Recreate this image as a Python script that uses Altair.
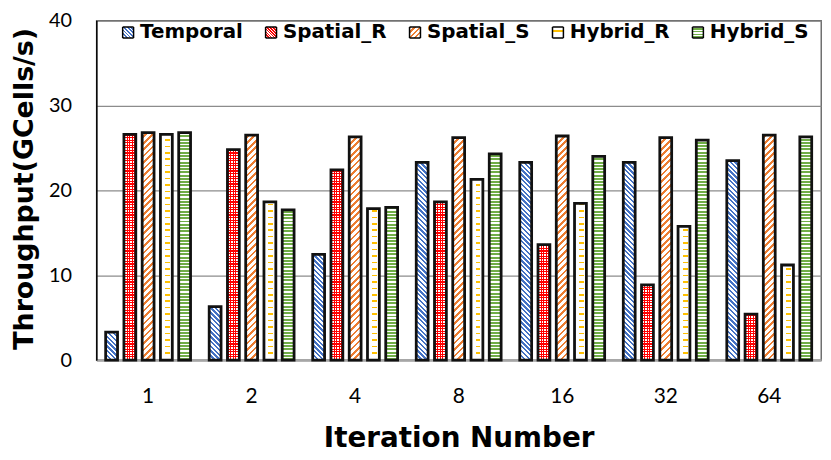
import math
import altair as alt

# ---------------- data ----------------
iterations = ["1", "2", "4", "8", "16", "32", "64"]
series = ["Temporal", "Spatial_R", "Spatial_S", "Hybrid_R", "Hybrid_S"]
temporal = [3.3, 6.3, 12.45, 23.3, 23.3, 23.3, 23.5]
spatial_r = [26.6, 24.8, 22.4, 18.65, 13.6, 8.85, 5.4]
spatial_s = [26.8, 26.5, 26.3, 26.2, 26.4, 26.2, 26.5]
hybrid_r = [26.6, 18.65, 17.85, 21.3, 18.45, 15.75, 11.2]
hybrid_s = [26.8, 17.7, 18.0, 24.3, 24.0, 25.9, 26.3]
y_ticks = [0, 10, 20, 30, 40]

values_by_series = {
    "Temporal": temporal,
    "Spatial_R": spatial_r,
    "Spatial_S": spatial_s,
    "Hybrid_R": hybrid_r,
    "Hybrid_S": hybrid_s,
}

# ---------------- layout / style ----------------
W, H = 730, 342
Y_MAX = 40
X_PAD_IN, X_PAD_OUT = 0.18, 0.09
OFF_PAD = 0.35
step = W / (len(iterations) - X_PAD_IN + 2 * X_PAD_OUT)
band = step * (1 - X_PAD_IN)
bar_w = band / (len(series) - OFF_PAD) * (1 - OFF_PAD)
SYM = 11  # legend symbol side (px)

BLUE = "#4472C4"
RED = "#FF0000"
ORANGE = "#ED7D31"
YELLOW = "#FFC000"
GREEN = "#70AD47"
WHITE = "#FFFFFF"
CLEAR = "rgba(255,255,255,0)"


def stripes(w, h, direction, period, frac, color_a, color_b):
    """Linear gradient (bbox units) that draws parallel stripes along `direction`."""
    lx, ly = direction
    du, dv = ly / h, -lx / w
    corners = [(0, 0), (1, 0), (0, 1), (1, 1)]
    proj = [cu * du + cv * dv for cu, cv in corners]
    lo, hi = min(proj), max(proj)
    p1 = corners[proj.index(lo)]
    s = (hi - lo) / (du * du + dv * dv)
    p2 = (p1[0] + s * du, p1[1] + s * dv)
    n = math.hypot(lx, ly)
    extent = (w * abs(ly) + h * abs(lx)) / n
    stops = []
    pos = 0.0
    while pos < extent - 1e-9:
        a_end = min(pos + frac * period, extent)
        b_end = min(pos + period, extent)
        o0, o1, o2 = pos / extent, a_end / extent, b_end / extent
        stops += [
            {"offset": round(o0, 5), "color": color_a},
            {"offset": round(o1, 5), "color": color_a},
            {"offset": round(o1, 5), "color": color_b},
            {"offset": round(o2, 5), "color": color_b},
        ]
        pos += period
    return {
        "gradient": "linear",
        "x1": round(p1[0], 5), "y1": round(p1[1], 5),
        "x2": round(p2[0], 5), "y2": round(p2[1], 5),
        "stops": stops,
    }


def band_mask(left, right, mask_color):
    return {
        "gradient": "linear", "x1": 0, "y1": 0, "x2": 1, "y2": 0,
        "stops": [
            {"offset": 0, "color": mask_color},
            {"offset": left, "color": mask_color},
            {"offset": left, "color": CLEAR},
            {"offset": right, "color": CLEAR},
            {"offset": right, "color": mask_color},
            {"offset": 1, "color": mask_color},
        ],
    }


def fills_for(s, w, h):
    if s == "Temporal":
        return stripes(w, h, (1, 1), 3.4, 0.5, BLUE, WHITE), None
    if s == "Spatial_R":
        return (stripes(w, h, (1, 0), 2.6, 0.45, RED, WHITE),
                stripes(w, h, (0, 1), 2.6, 0.45, RED, CLEAR))
    if s == "Spatial_S":
        return stripes(w, h, (1, -1), 4.6, 0.42, ORANGE, WHITE), None
    if s == "Hybrid_R":
        return (stripes(w, h, (1, 0), 6.5, 0.24, YELLOW, WHITE),
                band_mask(0.38, 0.8, WHITE))
    return stripes(w, h, (1, 0), 3.3, 0.6, GREEN, WHITE), None


records = []
for s in series:
    for it, v in zip(iterations, values_by_series[s]):
        f1, f2 = fills_for(s, bar_w, v / Y_MAX * H)
        rec = {"Iter": it, "Series": s, "Value": v, "fill1": f1}
        if f2 is not None:
            rec["fill2"] = f2
        records.append(rec)


# legend symbol patterns, as a Vega expression keyed on the legend entry
def grad_expr(g):
    stops = ",".join("{offset:%s,color:'%s'}" % (st["offset"], st["color"]) for st in g["stops"])
    return "{gradient:'linear',x1:%s,y1:%s,x2:%s,y2:%s,stops:[%s]}" % (
        g["x1"], g["y1"], g["x2"], g["y2"], stops)


legend_patterns = {
    "Temporal": stripes(SYM, SYM, (1, 1), 2.6, 0.5, BLUE, WHITE),
    "Spatial_R": stripes(SYM, SYM, (1, 1), 2.0, 0.6, RED, WHITE),
    "Spatial_S": stripes(SYM, SYM, (1, -1), 3.6, 0.45, ORANGE, WHITE),
    "Hybrid_R": {"gradient": "linear", "x1": 0, "y1": 0, "x2": 0, "y2": 1,
                 "stops": [{"offset": 0, "color": WHITE}, {"offset": 0.3, "color": WHITE},
                           {"offset": 0.3, "color": YELLOW}, {"offset": 0.45, "color": YELLOW},
                           {"offset": 0.45, "color": WHITE}, {"offset": 1, "color": WHITE}]},
    "Hybrid_S": stripes(SYM, SYM, (1, 0), 2.8, 0.55, GREEN, WHITE),
}
expr = "'#FFFFFF'"
for s in reversed(series):
    expr = "datum.value === '%s' ? %s : (%s)" % (s, grad_expr(legend_patterns[s]), expr)

base = alt.Chart(alt.Data(values=records))

x_enc = alt.X(
    "Iter:N",
    sort=iterations,
    scale=alt.Scale(domain=iterations, paddingInner=X_PAD_IN, paddingOuter=X_PAD_OUT),
    title="Iteration Number",
    axis=alt.Axis(
        labelAngle=0, ticks=False, labelPadding=26, labelFont="Lato",
        labelFontSize=21, labelColor="#000000",
        domainColor="#A6A6A6", domainWidth=2.5,
        titleFont="DejaVu Sans", titleFontSize=28, titleFontWeight="bold",
        titleColor="#000000", titleY=87, titleBaseline="alphabetic",
    ),
)
xo_enc = alt.XOffset(
    "Series:N", sort=series,
    scale=alt.Scale(domain=series, paddingInner=OFF_PAD, paddingOuter=0),
)
y_enc = alt.Y(
    "Value:Q",
    scale=alt.Scale(domain=[0, Y_MAX], nice=False),
    title="Throughput(GCells/s)",
    axis=alt.Axis(
        values=y_ticks, ticks=False, labelPadding=25, labelFont="Lato",
        labelFontSize=20, labelColor="#000000",
        domainColor="#000000", domainWidth=1.5,
        grid=True, gridColor="#8C8C8C", gridWidth=1.3,
        titleFont="DejaVu Sans", titleFontSize=27, titleFontWeight="bold",
        titleColor="#000000", titleAngle=270, titleX=-72, titleY=H / 2 - 2,
        titleBaseline="middle", titleAlign="center",
    ),
)

pattern_layer = base.mark_bar(strokeWidth=0).encode(
    x=x_enc, xOffset=xo_enc, y=y_enc,
    fill=alt.Fill("fill1:N", scale=None),
    strokeDash=alt.StrokeDash(
        "Series:N",
        scale=alt.Scale(domain=series, range=[[1, 0]] * len(series)),
        legend=alt.Legend(
            title=None, orient="none", direction="horizontal", columns=5,
            legendX=22, legendY=2, symbolType="square", symbolSize=SYM * SYM,
            symbolFillColor=alt.ExprRef(expr),
            symbolStrokeColor="#000000", symbolStrokeWidth=1.5,
            labelFont="DejaVu Sans", labelFontWeight="bold", labelFontSize=20,
            labelColor="#000000", labelOffset=2, columnPadding=18,
        ),
    ),
)

overlay_layer = base.transform_filter("isValid(datum.fill2)").mark_bar(strokeWidth=0).encode(
    x=x_enc, xOffset=xo_enc, y=y_enc,
    fill=alt.Fill("fill2:N", scale=None),
)

stroke_layer = base.mark_bar(fillOpacity=0, stroke="#111111", strokeWidth=2.8).encode(
    x=x_enc, xOffset=xo_enc, y=y_enc,
)

chart = (
    alt.layer(pattern_layer, overlay_layer, stroke_layer)
    .properties(
        width=W, height=H,
        autosize=alt.AutoSizeParams(type="none"),
        padding={"left": 89, "top": 11, "right": 2, "bottom": 96},
        background="#FFFFFF",
    )
    .configure_view(stroke="#595959", strokeWidth=1.3)
)

chart.save("out.html", embed_options={"renderer": "svg", "actions": False})
